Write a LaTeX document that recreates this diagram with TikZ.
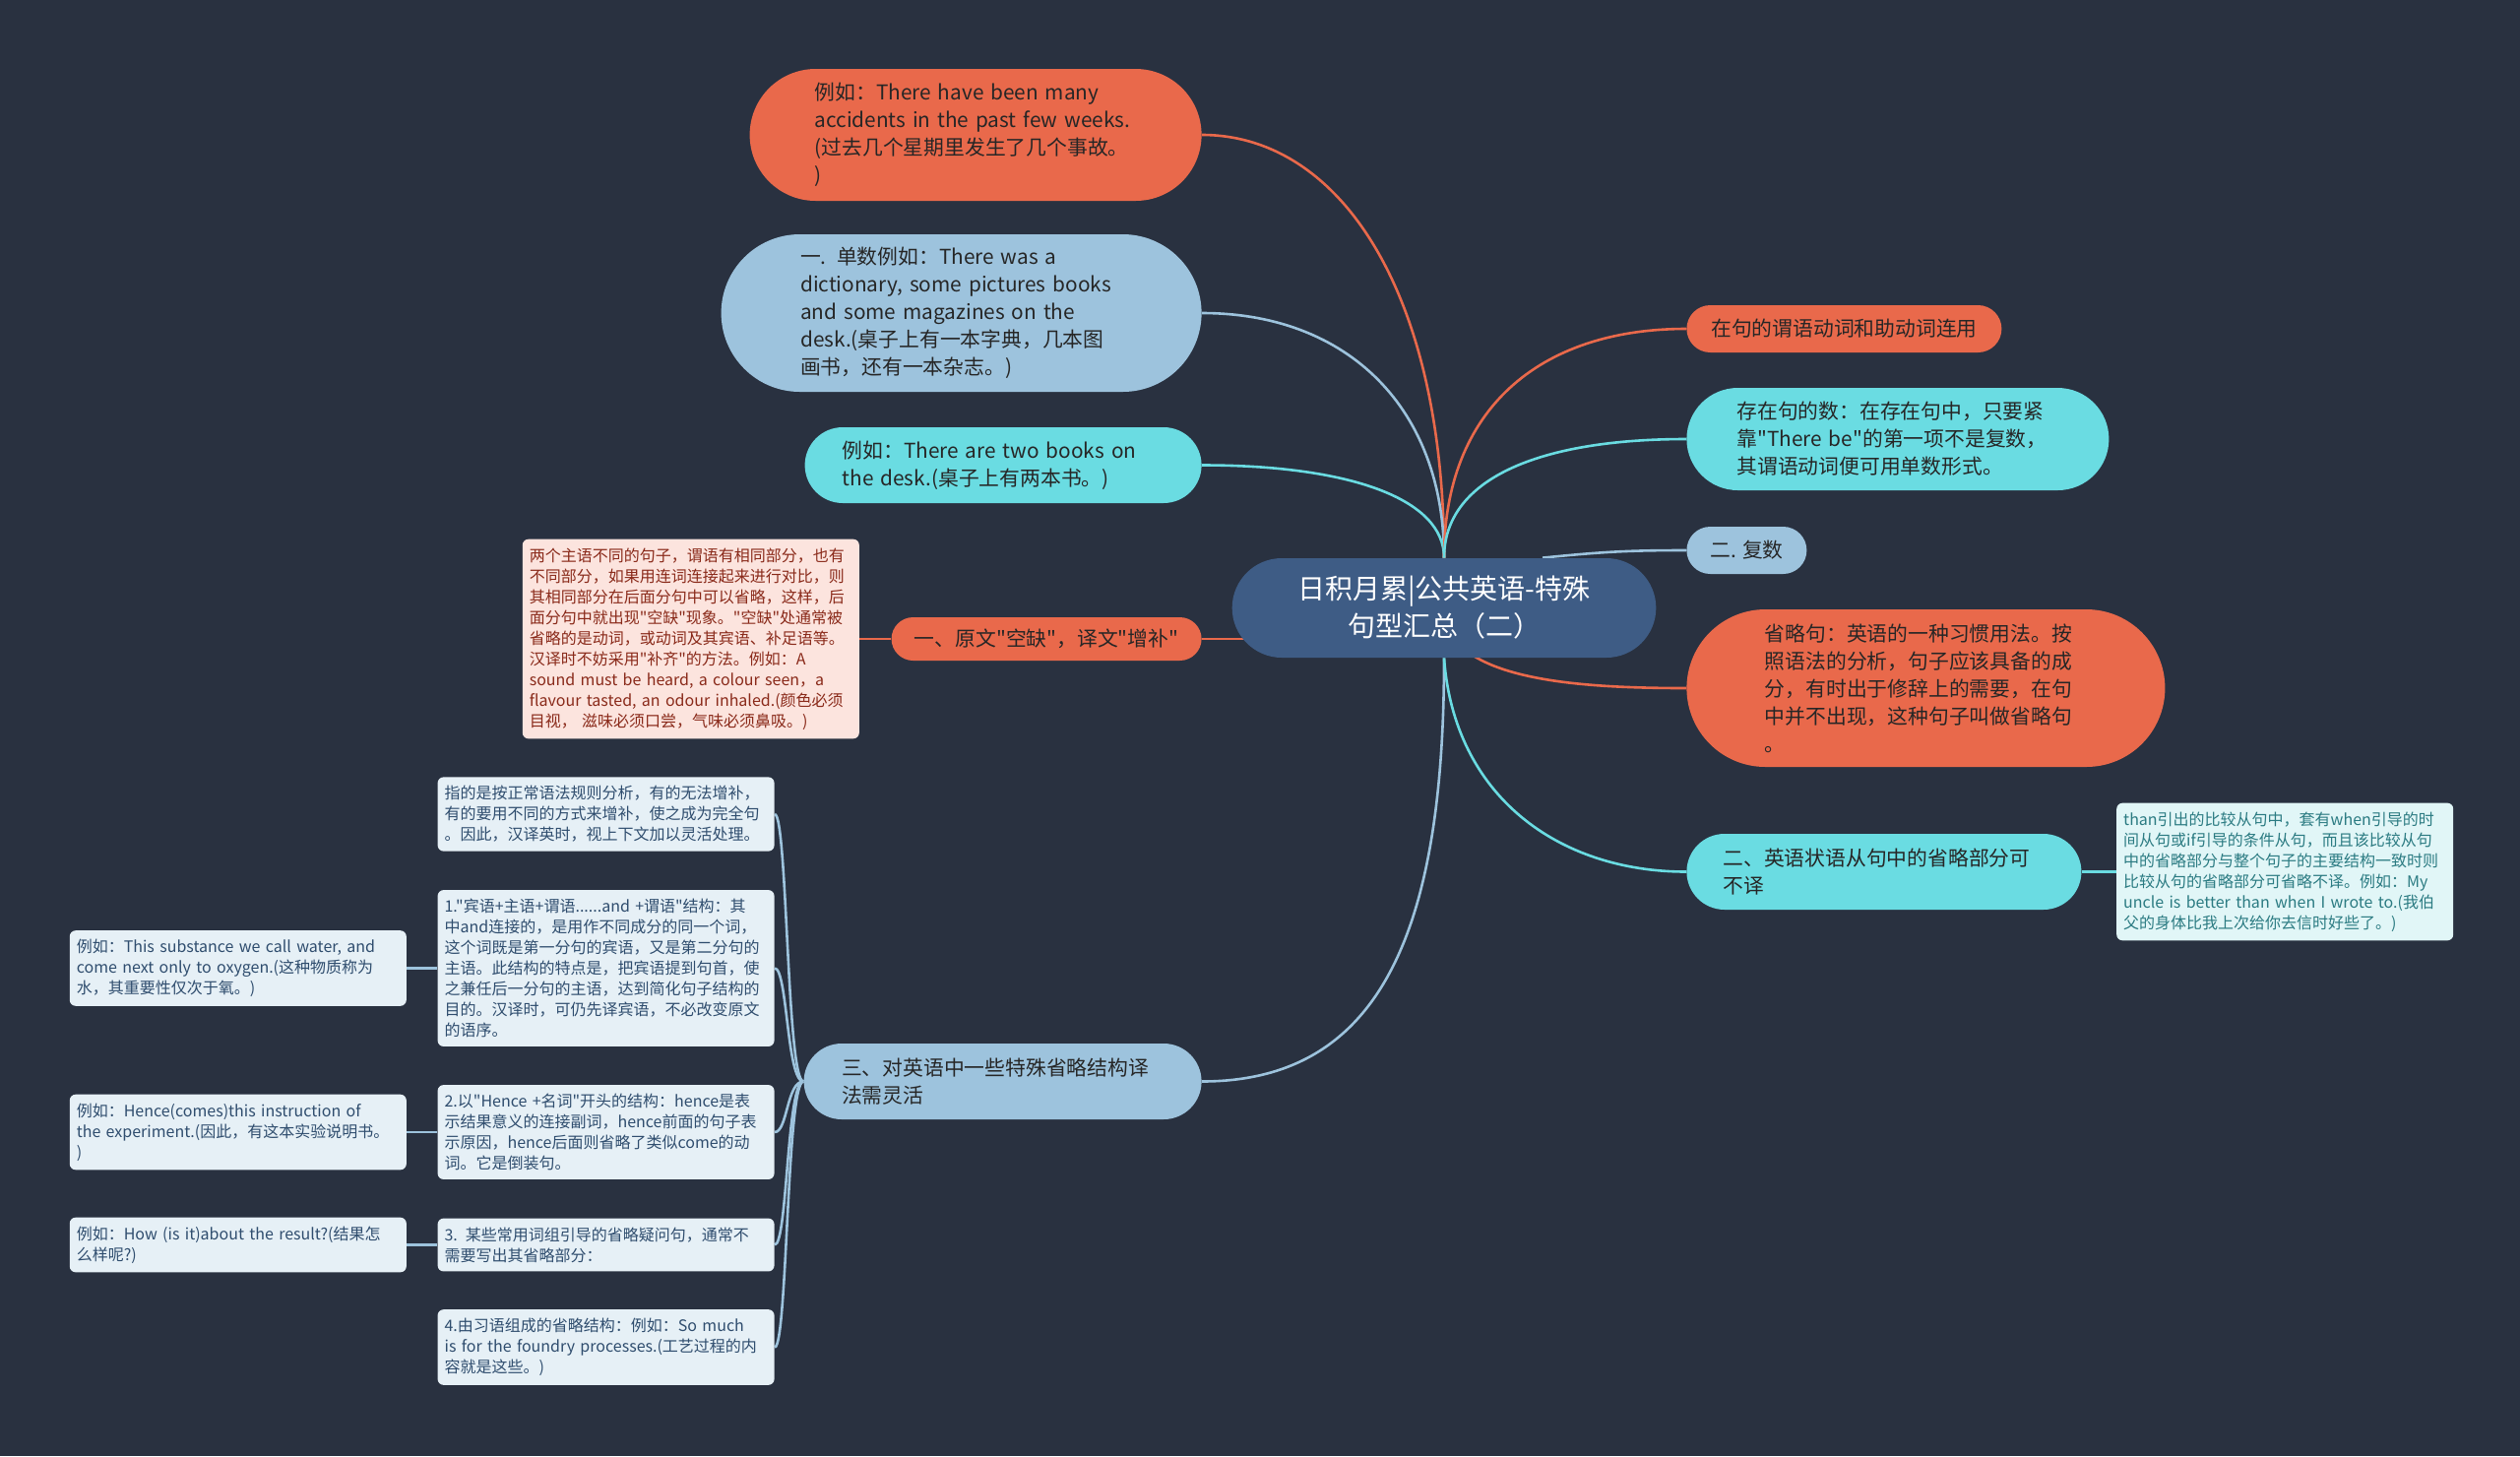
\documentclass[tikz,border=0pt]{standalone}
\usepackage{fontspec}
\setmainfont{Noto Sans CJK SC}[Ligatures=TeXOff]
\usepackage{tikz}
\usetikzlibrary{shapes.misc, positioning, backgrounds}
\pgfdeclarelayer{edges}
\pgfsetlayers{background,edges,main}

\definecolor{canvas}{HTML}{293140}
\definecolor{rootblue}{HTML}{3E5C85}
\definecolor{orng}{HTML}{E9694B}
\definecolor{skyblue}{HTML}{9DC3DD}
\definecolor{aqua}{HTML}{6ADCE2}
\definecolor{pinkfill}{HTML}{FCE4DE}
\definecolor{pinktext}{HTML}{8A2A1A}
\definecolor{tealfill}{HTML}{E1F6F7}
\definecolor{tealtext}{HTML}{2B7B82}
\definecolor{notefill}{HTML}{E6F0F6}
\definecolor{notetext}{HTML}{2F4D6E}
\definecolor{ink}{HTML}{262626}

\begin{document}
\begin{tikzpicture}[
  x=0.5pt, y=-0.5pt,
  pill/.style={rounded rectangle, inner xsep=0pt, inner ysep=3pt,
               align=left, text=ink, font=\fontsize{10.4}{14}\selectfont},
  multiline/.style={text width=163.5pt},
  opill/.style={pill, fill=orng},
  bpill/.style={pill, fill=skyblue},
  cpill/.style={pill, fill=aqua},
  rootpill/.style={rounded rectangle, fill=rootblue, text=white, align=center,
                   minimum width=222pt, minimum height=50.5pt,
                   font=\fontsize{14}{19}\selectfont},
  note/.style={rectangle, rounded corners=3pt, text width=164pt, align=left,
               inner xsep=3.5pt, inner ysep=4.5pt,
               font=\fontsize{8}{10.5}\selectfont},
  pinknote/.style={note, fill=pinkfill, text=pinktext},
  tealnote/.style={note, fill=tealfill, text=tealtext},
  bluenote/.style={note, fill=notefill, text=notetext},
  link/.style={line width=1.3pt},
  olink/.style={link, draw=orng},
  blink/.style={link, draw=skyblue},
  clink/.style={link, draw=aqua}
]
\useasboundingbox (0,0) rectangle (2560,1479);
\begin{pgfonlayer}{background}
  \fill[canvas] (0,0) rectangle (2560,1479);
\end{pgfonlayer}

\node[rootpill] (root) at (1467,617.5) {日积月累|公共英语-特殊\\句型汇总（二）};

\node[opill, multiline, minimum width=229.5pt, minimum height=67pt, anchor=east] (many) at (1221,137) {%
  例如：There have been many\\
  accidents in the past few weeks.\\
  (过去几个星期里发生了几个事故。\\
  )};
\node[bpill, multiline, minimum width=244pt, minimum height=80pt, anchor=east] (singular) at (1221,318) {%
  一. 单数例如：There was a\\
  dictionary, some pictures books\\
  and some magazines on the\\
  desk.(桌子上有一本字典，几本图\\
  画书，还有一本杂志。)};
\node[cpill, multiline, minimum width=201.5pt, minimum height=38.5pt, anchor=east] (twobooks) at (1221,472.5) {%
  例如：There are two books on\\
  the desk.(桌子上有两本书。)};
\node[opill, minimum width=157.5pt, minimum height=22pt, anchor=east] (gap) at (1221,649) {一、原文"空缺"，译文"增补"};
\node[pinknote, left=16pt of gap] (gapnote) {%
  两个主语不同的句子，谓语有相同部分，也有\\
  不同部分，如果用连词连接起来进行对比，则\\
  其相同部分在后面分句中可以省略，这样，后\\
  面分句中就出现"空缺"现象。"空缺"处通常被\\
  省略的是动词，或动词及其宾语、补足语等。\\
  汉译时不妨采用"补齐"的方法。例如：A\\
  sound must be heard, a colour seen，a\\
  flavour tasted, an odour inhaled.(颜色必须\\
  目视， 滋味必须口尝，气味必须鼻吸。)};
\node[bpill, multiline, minimum width=202pt, minimum height=38.5pt, anchor=east] (special) at (1221,1098.5) {%
  三、对英语中一些特殊省略结构译\\
  法需灵活};

\node[opill, minimum width=160pt, minimum height=24pt, anchor=west] (aux) at (1713,334) {在句的谓语动词和助动词连用};
\node[cpill, multiline, minimum width=214.5pt, minimum height=52pt, anchor=west] (there) at (1713,446) {%
  存在句的数：在存在句中，只要紧\\
  靠"There be"的第一项不是复数，\\
  其谓语动词便可用单数形式。};
\node[bpill, minimum width=61pt, minimum height=24pt, anchor=west] (plural) at (1713,559) {二. 复数};
\node[opill, multiline, minimum width=243pt, minimum height=80pt, anchor=west] (ellipsis) at (1713,699) {%
  省略句：英语的一种习惯用法。按\\
  照语法的分析，句子应该具备的成\\
  分，有时出于修辞上的需要，在句\\
  中并不出现，这种句子叫做省略句\\
  。};
\node[cpill, multiline, minimum width=200.5pt, minimum height=38.5pt, anchor=west] (adverbial) at (1713,885.5) {%
  二、英语状语从句中的省略部分可\\
  不译};
\node[tealnote, right=17.5pt of adverbial] (advnote) {%
  than引出的比较从句中，套有when引导的时\\
  间从句或if引导的条件从句，而且该比较从句\\
  中的省略部分与整个句子的主要结构一致时则\\
  比较从句的省略部分可省略不译。例如：My\\
  uncle is better than when I wrote to.(我伯\\
  父的身体比我上次给你去信时好些了。)};

\node[bluenote, anchor=east] (rule) at (787,827) {%
  指的是按正常语法规则分析，有的无法增补，\\
  有的要用不同的方式来增补，使之成为完全句\\
  。因此，汉译英时，视上下文加以灵活处理。};
\node[bluenote, anchor=east] (objfirst) at (787,983.5) {%
  1."宾语+主语+谓语......and +谓语"结构：其\\
  中and连接的，是用作不同成分的同一个词，\\
  这个词既是第一分句的宾语，又是第二分句的\\
  主语。此结构的特点是，把宾语提到句首，使\\
  之兼任后一分句的主语，达到简化句子结构的\\
  目的。汉译时，可仍先译宾语，不必改变原文\\
  的语序。};
\node[bluenote, left=15.5pt of objfirst] (water) {%
  例如：This substance we call water, and\\
  come next only to oxygen.(这种物质称为\\
  水，其重要性仅次于氧。)};
\node[bluenote, anchor=east] (hence) at (787,1150) {%
  2.以"Hence +名词"开头的结构：hence是表\\
  示结果意义的连接副词，hence前面的句子表\\
  示原因，hence后面则省略了类似come的动\\
  词。它是倒装句。};
\node[bluenote, left=15.5pt of hence] (instr) {%
  例如：Hence(comes)this instruction of\\
  the experiment.(因此，有这本实验说明书。\\
  )};
\node[bluenote, anchor=east] (question) at (787,1264.5) {%
  3. 某些常用词组引导的省略疑问句，通常不\\
  需要写出其省略部分：};
\node[bluenote, left=15.5pt of question] (result) {%
  例如：How (is it)about the result?(结果怎\\
  么样呢?)};
\node[bluenote, anchor=east] (idiom) at (787,1368.5) {%
  4.由习语组成的省略结构：例如：So much\\
  is for the foundry processes.(工艺过程的内\\
  容就是这些。)};

\begin{pgfonlayer}{edges}
\draw[olink] (root.north) .. controls +(0,-270) and +(140,0) .. (many.east);
\draw[blink] (root.north) .. controls +(0,-150) and +(150,0) .. (singular.east);
\draw[clink] (root.north) .. controls +(0,-60) and +(150,0) .. (twobooks.east);
\draw[olink] (gap.east) -- (gap.east -| root.center);
\draw[olink] (gapnote.east) -- (gap.west);
\draw[blink] (root.south) .. controls +(0,280) and +(180,0) .. (special.east);
\draw[olink] (root.north) .. controls +(0,-150) and +(-150,0) .. (aux.west);
\draw[clink] (root.north) .. controls +(0,-80) and +(-150,0) .. (there.west);
\draw[blink] ([xshift=50pt]root.north) .. controls +(60,-6) and +(-60,0) .. (plural.west);
\draw[olink] (root.center) .. controls +(0,73) and +(-113,0) .. (ellipsis.west);
\draw[clink] (root.south) .. controls +(10,140) and +(-130,0) .. (adverbial.west);
\draw[clink] (adverbial.east) -- (advnote.west);
\draw[blink] (special.west) .. controls +(-17,0) and +(13,0) .. (rule.east);
\draw[blink] (special.west) .. controls +(-17,0) and +(13,0) .. (objfirst.east);
\draw[blink] (special.west) .. controls +(-17,0) and +(13,0) .. (hence.east);
\draw[blink] (special.west) .. controls +(-17,0) and +(13,0) .. (question.east);
\draw[blink] (special.west) .. controls +(-17,0) and +(13,0) .. (idiom.east);
\draw[blink] (water.east) -- (objfirst.west);
\draw[blink] (instr.east) -- (hence.west);
\draw[blink] (result.east) -- (question.west);
\end{pgfonlayer}
\end{tikzpicture}
\end{document}
